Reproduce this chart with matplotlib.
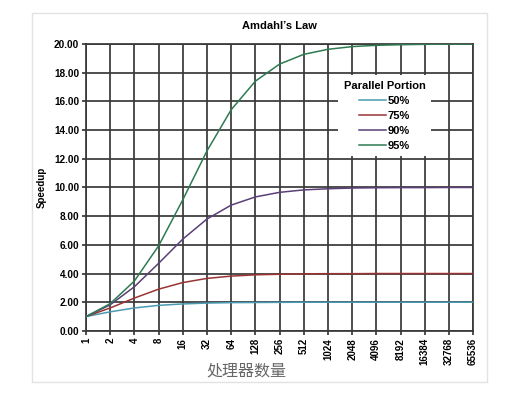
"""Amdahl's Law speedup chart, saved to out.png."""

import matplotlib
matplotlib.use("Agg")
import matplotlib.pyplot as plt
from matplotlib.patches import Rectangle

# ---------------------------------------------------------------------------
# Data
# ---------------------------------------------------------------------------
processors = ["1", "2", "4", "8", "16", "32", "64", "128", "256", "512",
              "1024", "2048", "4096", "8192", "16384", "32768", "65536"]

speedup_50 = [1.00, 1.33, 1.60, 1.78, 1.88, 1.94, 1.97, 1.98, 1.99, 2.00,
              2.00, 2.00, 2.00, 2.00, 2.00, 2.00, 2.00]
speedup_75 = [1.00, 1.60, 2.29, 2.91, 3.37, 3.66, 3.82, 3.91, 3.95, 3.98,
              3.99, 3.99, 4.00, 4.00, 4.00, 4.00, 4.00]
speedup_90 = [1.00, 1.82, 3.08, 4.71, 6.40, 7.80, 8.77, 9.34, 9.66, 9.83,
              9.91, 9.96, 9.98, 9.99, 9.99, 10.00, 10.00]
speedup_95 = [1.00, 1.90, 3.48, 5.93, 9.14, 12.55, 15.42, 17.41, 18.60, 19.28,
              19.63, 19.82, 19.91, 19.95, 19.98, 19.99, 19.99]

series_labels = ["50%", "75%", "90%", "95%"]
y_ticks = [0, 2, 4, 6, 8, 10, 12, 14, 16, 18, 20]

colors = ["#4a9ab2", "#9a3434", "#5a3f78", "#2e7a52"]

plt.rcParams["font.family"] = ["Liberation Sans", "DejaVu Sans"]

fig = plt.figure(figsize=(5.06, 3.93), dpi=100)
ax = fig.add_axes([0.170, 0.158, 0.765, 0.730])

x = list(range(len(processors)))
for vals, lab, col in zip([speedup_50, speedup_75, speedup_90, speedup_95],
                          series_labels, colors):
    ax.plot(x, vals, color=col, lw=1.1, label=lab, zorder=3)

grid_col = "#383838"
ax.set_xlim(0, len(processors) - 1)
ax.set_ylim(0, 20)
ax.set_xticks(x)
ax.set_xticklabels(processors, rotation=90, fontsize=7, fontweight="bold")
ax.set_yticks(y_ticks)
ax.set_yticklabels([f"{v:.2f}" for v in y_ticks], fontsize=7.2, fontweight="bold")
ax.grid(True, color=grid_col, lw=1.25, zorder=1)
ax.set_axisbelow(True)
ax.tick_params(axis="both", direction="out", length=3, width=1.25,
               color=grid_col, pad=2)
for side, sp in ax.spines.items():
    sp.set_color(grid_col)
    sp.set_linewidth(1.25)

ax.set_title("Amdahl\u2019s Law", fontsize=8, fontweight="bold", pad=11)
ax.set_ylabel("Speedup", fontsize=7, fontweight="bold", labelpad=5)

fig.text(246 / 506, 1 - 371 / 393, "处理器数量", fontsize=11.5, color="#666666",
         ha="center", va="center",
         family=["Noto Sans CJK SC", "DejaVu Sans"])

leg = ax.legend(title="Parallel Portion", loc="upper left",
                bbox_to_anchor=(338 / 506, 1 - 75 / 393),
                bbox_transform=fig.transFigure,
                prop={"size": 8, "weight": "bold"},
                title_fontproperties={"size": 8, "weight": "bold"},
                frameon=True, fancybox=False, framealpha=1,
                borderpad=0.5, labelspacing=0.45, handlelength=2.4,
                handletextpad=0.1, borderaxespad=0)
leg.get_frame().set_edgecolor("none")
leg.get_frame().set_facecolor("white")
leg.set_zorder(5)

# faint border around the whole chart
fig.patches.append(Rectangle((32 / 506, 1 - 382 / 393), 455 / 506, 369 / 393,
                             transform=fig.transFigure, fill=False,
                             edgecolor="#e2e2e2", lw=1))

fig.savefig("out.png", dpi=100)
plt.close(fig)
